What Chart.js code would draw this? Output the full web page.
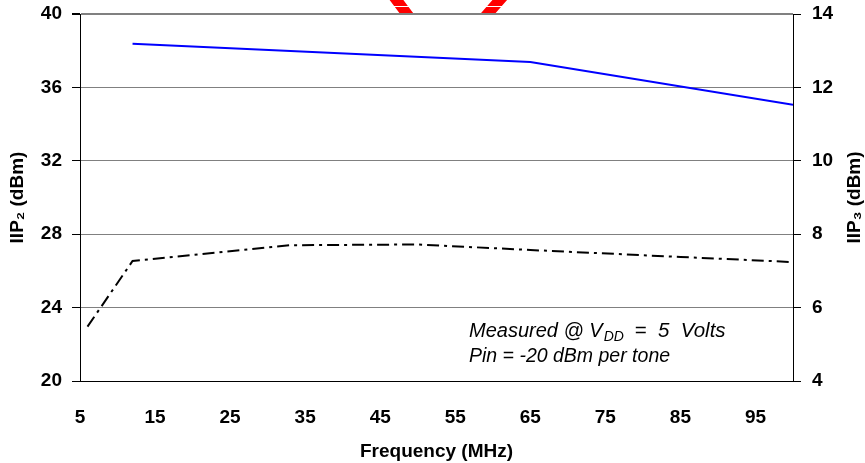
<!DOCTYPE html>
<html>
<head>
<meta charset="utf-8">
<script src="https://cdn.jsdelivr.net/npm/chart.js@4.4.1/dist/chart.umd.min.js"></script>
<style>
    html, body { margin: 0; padding: 0; background: #fff; }
    #wrap { width: 865px; height: 463px; }
</style>
</head>
<body>
<div id="wrap"><canvas id="iipChart" width="865" height="463"></canvas></div>
<script>
// values
const freqIIP2 = [12, 65, 100];
const iip2Values = [38.38, 37.38, 35.05];          // dBm, left axis
const freqIIP3 = [6, 12, 33, 50, 65, 85, 100];
const iip3Values = [5.48, 7.27, 7.7, 7.72, 7.57, 7.38, 7.24];   // dBm, right axis
const xTickValues = [5, 15, 25, 35, 45, 55, 65, 75, 85, 95];
const rightTitle = 'IIP\u2083 (dBm)';
const noteLine1 = ['Measured @ V', 'DD', ' =  5  Volts'];
const noteLine2 = 'Pin = -20 dBm per tone';

const FONT = '"Liberation Sans", Arial, sans-serif';
const tickFont = { family: FONT, size: 19, weight: 'bold' };

function toPoints(xs, ys) {
    return xs.map((x, i) => ({ x: x, y: ys[i] }));
}

// no extra room above/below the y axes, the plot spans the whole box
function fixYAxis(width) {
    return (scale) => {
        scale.width = width;
        scale.paddingTop = 0;
        scale.paddingBottom = 0;
    };
}

// red marks peeking above the plot area
const redMarkPlugin = {
    id: 'redMark',
    beforeDraw(chart) {
        const ctx = chart.ctx;
        const top = chart.chartArea.top;
        ctx.save();
        ctx.beginPath();
        ctx.rect(0, 0, chart.width, top);
        ctx.clip();
        ctx.strokeStyle = '#ff0000';
        ctx.lineWidth = 11;
        ctx.beginPath();
        ctx.moveTo(392, -6);
        ctx.lineTo(410, 18);
        ctx.moveTo(505, -6);
        ctx.lineTo(484, 18);
        ctx.stroke();
        ctx.strokeStyle = '#ffffff';
        ctx.lineWidth = 1;
        ctx.beginPath();
        ctx.moveTo(380, 6.5);
        ctx.lineTo(515, 6.5);
        ctx.stroke();
        ctx.restore();
    }
};

// measurement note inside the plot + right axis title (reads bottom to top)
const notePlugin = {
    id: 'note',
    afterDatasetsDraw(chart) {
        const ctx = chart.ctx;
        let x = 469;
        ctx.save();
        ctx.fillStyle = '#000';
        ctx.textBaseline = 'alphabetic';
        ctx.textAlign = 'left';
        ctx.font = 'italic 20px ' + FONT;
        ctx.fillText(noteLine1[0], x, 337);
        x += ctx.measureText(noteLine1[0]).width + 1;
        ctx.font = 'italic 14px ' + FONT;
        ctx.fillText(noteLine1[1], x, 341);
        x += ctx.measureText(noteLine1[1]).width + 5;
        ctx.font = 'italic 20.5px ' + FONT;
        ctx.fillText(noteLine1[2], x, 337);
        ctx.font = 'italic 19.5px ' + FONT;
        ctx.fillText(noteLine2, 469, 362);

        const area = chart.chartArea;
        ctx.translate(855, (area.top + area.bottom) / 2);
        ctx.rotate(-Math.PI / 2);
        ctx.textAlign = 'center';
        ctx.textBaseline = 'middle';
        ctx.font = 'bold 19px ' + FONT;
        ctx.fillText(rightTitle, 0, 0);
        ctx.restore();
    }
};

const ctx = document.getElementById('iipChart');
new Chart(ctx.getContext('2d'), {
    type: 'line',
    data: {
        datasets: [
            {
                label: 'IIP2',
                data: toPoints(freqIIP2, iip2Values),
                yAxisID: 'y',
                borderColor: '#0000ff',
                borderWidth: 2,
                pointRadius: 0,
                tension: 0,
                fill: false
            },
            {
                label: 'IIP3',
                data: toPoints(freqIIP3, iip3Values),
                yAxisID: 'y3',
                borderColor: '#000000',
                borderWidth: 2,
                borderDash: [12, 5, 3, 5],
                pointRadius: 0,
                tension: 0,
                fill: false
            }
        ]
    },
    options: {
        responsive: false,
        animation: false,
        layout: { padding: { top: 14, left: 0, right: 0, bottom: 0 } },
        plugins: {
            legend: { display: false },
            tooltip: { enabled: false }
        },
        scales: {
            x: {
                type: 'linear',
                position: 'bottom',
                min: 5,
                max: 100,
                afterBuildTicks: (scale) => { scale.ticks = xTickValues.map(v => ({ value: v })); },
                afterFit: (scale) => { scale.height = 82; },
                grid: { display: false },
                border: { display: true, color: '#000', width: 1 },
                ticks: { color: '#000', font: tickFont, padding: 17, maxRotation: 0, autoSkip: false },
                title: {
                    display: true,
                    text: 'Frequency (MHz)',
                    color: '#000',
                    font: { family: FONT, size: 19, weight: 'bold' },
                    padding: { top: 0, bottom: 0 }
                }
            },
            y: {
                position: 'left',
                min: 20,
                max: 40,
                afterFit: fixYAxis(80),
                grid: {
                    color: '#808080',
                    lineWidth: (c) => (c.tick && c.tick.value === 40 ? 2 : 1),
                    tickColor: '#000',
                    tickLength: 8
                },
                border: { display: true, color: '#000', width: 1 },
                ticks: { stepSize: 4, color: '#000', font: tickFont, padding: 10 },
                title: {
                    display: true,
                    text: 'IIP\u2082 (dBm)',
                    color: '#000',
                    font: { family: FONT, size: 19, weight: 'bold' },
                    padding: { top: 6, bottom: 0 }
                }
            },
            y3: {
                position: 'right',
                min: 4,
                max: 14,
                afterFit: fixYAxis(72),
                grid: { drawOnChartArea: false, tickColor: '#000', tickLength: 8 },
                border: { display: true, color: '#000', width: 1 },
                ticks: { stepSize: 2, color: '#000', font: tickFont, padding: 11 },
                title: { display: false }
            }
        }
    },
    plugins: [redMarkPlugin, notePlugin]
});
</script>
</body>
</html>
